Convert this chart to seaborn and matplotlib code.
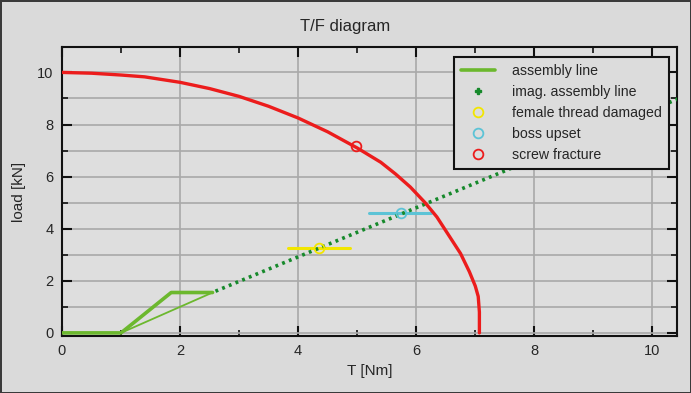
import numpy as np
import pandas as pd
import matplotlib
matplotlib.use("Agg")
import matplotlib.pyplot as plt
from matplotlib.lines import Line2D
import seaborn as sns

# assembly line (thick polyline) and thin return line
asm_T = [0.0, 1.0, 1.85, 2.55]
asm_F = [0.0, 0.0, 1.55, 1.55]
thin_T = [1.0, 2.55]
thin_F = [0.0, 1.55]

# imaginary assembly line (dotted continuation)
imag_T = [2.6, 10.45]
imag_F = [1.6, 9.0]

# screw fracture curve
scr_T = [0.0, 0.5, 1.0, 1.4, 2.0, 2.5, 3.0, 3.5, 4.0, 4.5, 5.0, 5.4, 5.65, 5.9,
         6.15, 6.35, 6.55, 6.75, 6.9, 7.0, 7.05, 7.07, 7.07]
scr_F = [10.0, 9.97, 9.9, 9.83, 9.62, 9.38, 9.08, 8.7, 8.25, 7.72, 7.1, 6.55, 6.1,
         5.6, 5.0, 4.45, 3.75, 3.05, 2.35, 1.8, 1.4, 0.8, 0.0]
scr_pt = (4.98, 7.17)

# female thread damaged / boss upset: horizontal bars + circles
thr_T = [3.83, 4.87]
thr_F = [3.27, 3.27]
thr_pt = (4.35, 3.25)
boss_T = [5.2, 6.25]
boss_F = [4.62, 4.62]
boss_pt = (5.75, 4.6)

bg = "#dadada"
grid_c = "#a9a9a9"
c_asm = "#6cb82e"
c_imag = "#16892b"
c_thr = "#f2e600"
c_boss = "#5cc3d6"
c_scr = "#ec1c1c"

sns.set_theme(style="ticks")
plt.rcParams["font.family"] = ["Liberation Sans", "DejaVu Sans"]

fig = plt.figure(figsize=(6.91, 3.93), dpi=100)
fig.patch.set_facecolor(bg)
fig.patch.set_edgecolor("#3a3a3a")
fig.patch.set_linewidth(2)
ax = fig.add_axes([0.0897, 0.145, 0.8903, 0.735])
ax.set_facecolor("#dedede")

df_asm = pd.DataFrame({"T": asm_T, "F": asm_F})
df_thin = pd.DataFrame({"T": thin_T, "F": thin_F})
df_imag = pd.DataFrame({"T": imag_T, "F": imag_F})
df_scr = pd.DataFrame({"T": scr_T, "F": scr_F})
df_thr = pd.DataFrame({"T": thr_T, "F": thr_F})
df_boss = pd.DataFrame({"T": boss_T, "F": boss_F})

sns.lineplot(data=df_imag, x="T", y="F", ax=ax, color=c_imag, lw=2.6,
             sort=False, estimator=None,
             linestyle=(0, (0.8, 1.2)), dash_capstyle="butt", zorder=3)
sns.lineplot(data=df_thin, x="T", y="F", ax=ax, color=c_asm, lw=1.3,
             sort=False, estimator=None, zorder=4)
sns.lineplot(data=df_asm, x="T", y="F", ax=ax, color=c_asm, lw=2.6,
             sort=False, estimator=None, zorder=4)
sns.lineplot(data=df_thr, x="T", y="F", ax=ax, color=c_thr, lw=2.2,
             sort=False, estimator=None, zorder=2)
sns.lineplot(data=df_boss, x="T", y="F", ax=ax, color=c_boss, lw=2.2,
             sort=False, estimator=None, zorder=2)
sns.lineplot(data=df_scr, x="T", y="F", ax=ax, color=c_scr, lw=2.4,
             sort=False, estimator=None, zorder=5)

for pt, c in [(thr_pt, c_thr), (boss_pt, c_boss), (scr_pt, c_scr)]:
    ax.plot([pt[0]], [pt[1]], marker="o", ms=7, mfc="none", mec=c, mew=1.3,
            linestyle="none", zorder=6)

ax.set_xlim(0, 10.42)
ax.set_ylim(-0.12, 10.97)
ax.set_xticks([0, 2, 4, 6, 8, 10])
ax.set_xticks([1, 3, 5, 7, 9], minor=True)
ax.set_yticks([0, 2, 4, 6, 8, 10])
ax.set_yticks([1, 3, 5, 7, 9], minor=True)
ax.grid(True, which="major", color=grid_c, lw=1.2)
ax.yaxis.grid(True, which="minor", color=grid_c, lw=1.2)
ax.set_axisbelow(True)
ax.tick_params(which="both", direction="in", top=True, right=True,
               color="#111111", labelsize=10.5, pad=6)
ax.tick_params(which="major", length=7, width=1.5)
ax.tick_params(which="minor", length=4, width=1.2)
for s in ax.spines.values():
    s.set_color("#111111")
    s.set_linewidth(1.5)

ax.set_xlabel("T [Nm]", fontsize=11, labelpad=4)
ax.set_ylabel("load [kN]", fontsize=11, labelpad=8)
fig.suptitle("T/F diagram", fontsize=12, y=0.952)

handles = [
    Line2D([], [], color=c_asm, lw=2.6),
    Line2D([], [], color=c_imag, marker="P", ms=4, linestyle="none"),
    Line2D([], [], color=c_thr, marker="o", ms=7, mfc="none", mew=1.3, linestyle="none"),
    Line2D([], [], color=c_boss, marker="o", ms=7, mfc="none", mew=1.3, linestyle="none"),
    Line2D([], [], color=c_scr, marker="o", ms=7, mfc="none", mew=1.3, linestyle="none"),
]
labels = ["assembly line", "imag. assembly line", "female thread damaged",
          "boss upset", "screw fracture"]
leg = ax.legend(handles, labels, loc="upper right", bbox_to_anchor=(0.986, 0.966),
                fontsize=10.2, frameon=True, fancybox=False, framealpha=1,
                facecolor="#dcdcdc", edgecolor="#111111", borderpad=0.5,
                labelspacing=0.5, handlelength=2.4, handletextpad=1.2,
                borderaxespad=0)
leg.get_frame().set_linewidth(1.5)

fig.savefig("out.png", dpi=100, facecolor=fig.get_facecolor(),
            edgecolor=fig.get_edgecolor())
